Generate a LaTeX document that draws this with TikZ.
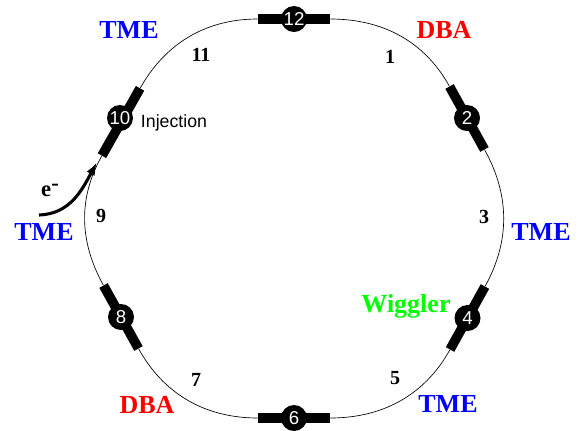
\documentclass[tikz,border=0pt]{standalone}
\usepackage{fontspec}
\setmainfont{Liberation Serif}
\setsansfont{Liberation Sans}
\usepackage{xcolor}
\usetikzlibrary{arrows.meta,positioning}
\definecolor{tmeblue}{HTML}{0000FF}
\definecolor{dbared}{HTML}{FF0000}
\definecolor{wigglergreen}{HTML}{00FF00}

\begin{document}
\begin{tikzpicture}[x=0.75pt,y=-0.75pt,
  magnet/.style={rectangle, fill=black, minimum width=54pt, minimum height=7.2pt, inner sep=0pt},
  straight/.style={circle, fill=black, text=white, minimum size=19.5pt, inner sep=0pt, font=\sffamily\fontsize{14}{14}\selectfont},
  section/.style={font=\bfseries\fontsize{19.5}{20}\selectfont},
  cell/.style={font=\bfseries\fontsize{15}{15}\selectfont},
  ring/.style={line width=0.5pt, looseness=0.97},
  arr/.style={-{Latex[length=3.5mm,width=2.4mm]}, line width=2.3pt, black}
]
\useasboundingbox (0,0) rectangle (578,430);

% magnets on the ring
\node[magnet] (m12) at (294,19) {};
\node[magnet, rotate=-61] (m2) at (467,118) {};
\node[magnet, rotate=61] (m4) at (467.5,318) {};
\node[magnet] (m6) at (294,418) {};
\node[magnet, rotate=-61] (m8) at (121,317) {};
\node[magnet, rotate=60.5, minimum width=58pt] (m10) at (121,122) {};

\node[straight] (s12) at (m12) {12};
\node[straight] (s2) at (m2) {2};
\node[straight] (s4) at (m4) {4};
\node[straight] (s6) at (m6) {6};
\node[straight] (s8) at (m8) {8};
\node[straight] (s10) at (120,118) {10};

% arcs between the magnets
\draw[ring] (m12.east) to[out=0, in=119] (m2.west);
\draw[ring] (m2.east) to[out=-61, in=61] (m4.east);
\draw[ring] (m4.west) to[out=241, in=0] (m6.east);
\draw[ring] (m6.west) to[out=180, in=-61] (m8.east);
\draw[ring] (m8.west) to[out=119, in=-119.5] (m10.west);
\draw[ring] (m10.east) to[out=60.5, in=180] (m12.west);

\node[section, text=tmeblue] (tme1) at (129,30) {TME};
\node[section, text=tmeblue] (tme2) at (44,232) {TME};
\node[section, text=tmeblue] (tme3) at (541,232) {TME};
\node[section, text=tmeblue] (tme4) at (448,404) {TME};
\node[section, text=dbared] (dba1) at (444,30) {DBA};
\node[section, text=dbared] (dba2) at (147,405) {DBA};
\node[section, text=wigglergreen] (wig) at (406,306) {Wiggler};

\node[cell] (c11) at (201,55) {11};
\node[cell] (c1) at (390,57) {1};
\node[cell] (c3) at (484,217) {3};
\node[cell] (c5) at (395,378) {5};
\node[cell] (c7) at (196,380) {7};
\node[cell] (c9) at (101,216) {9};

\node[font=\sffamily\fontsize{13.3}{14}\selectfont] (inj) at (174,122.5) {Injection};
\node[font=\bfseries\fontsize{17}{17}\selectfont] (elec) at (50,190) {e\raisebox{4.5pt}{-}};

\coordinate (start) at (39,215);
\coordinate (tip) at (97,162);
\draw[arr] (start) .. controls (70,214) and (82,190) .. (tip);
\end{tikzpicture}
\end{document}
